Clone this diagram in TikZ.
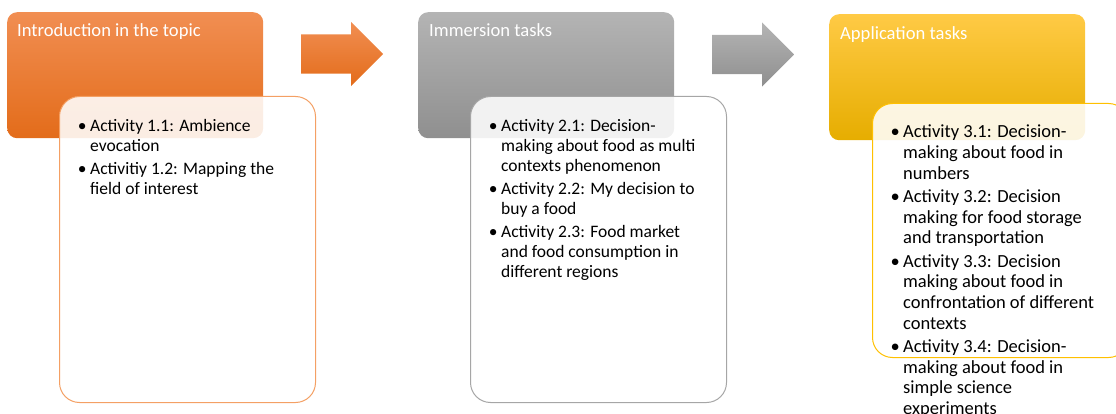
\documentclass[tikz,border=0pt]{standalone}
\usepackage{fontspec}
\setmainfont{Carlito}
\usetikzlibrary{shapes.arrows}

\definecolor{orangetop}{HTML}{F18E52}
\definecolor{orangemid}{HTML}{F07D2A}
\definecolor{orangebot}{HTML}{E36C1A}
\definecolor{orangeline}{HTML}{F4A064}
\definecolor{graytop}{HTML}{B4B4B4}
\definecolor{graymid}{HTML}{A4A4A4}
\definecolor{graybot}{HTML}{8F8F8F}
\definecolor{grayline}{HTML}{A6A6A6}
\definecolor{goldtop}{HTML}{FFCA45}
\definecolor{goldmid}{HTML}{FFC000}
\definecolor{goldbot}{HTML}{E6AD00}
\definecolor{goldline}{HTML}{FFC000}

\newcommand{\blt}{\makebox[10pt][l]{\makebox[4pt][c]{\textbullet}}}
\newcommand{\hng}{\hspace*{10pt}}

\begin{document}
\begin{tikzpicture}[
    x=1pt, y=-1pt,
    header/.style = {rectangle, rounded corners=10pt, anchor=north west,
minimum width=256pt, minimum height=126pt, inner sep=0pt},
    title/.style = {anchor=base west, inner sep=0pt, text=white,
font=\fontsize{18.6}{22}\selectfont},
    content/.style = {rectangle, rounded corners=20pt, anchor=north west,
fill=white, fill opacity=0.88, line width=1pt,
minimum width=256pt, minimum height=306pt},
    items/.style = {anchor=north west, inner sep=0pt, align=left,
font=\fontsize{17.5}{20}\selectfont},
    blockarrow/.style = {single arrow, single arrow head extend=12.5pt,
single arrow head indent=0pt, inner xsep=0pt, inner ysep=19.5pt,
minimum height=82pt, anchor=tail}
]
  \useasboundingbox (0,0) rectangle (1116,414);

  % introduction
  \node (intro) [header, top color=orangetop, middle color=orangemid, bottom color=orangebot] at (7,12) {};
  \node (introtitle) [title] at ([shift={(10pt,-25pt)}]intro.north west) {Introduction in the topic};
  \node (introlist) [content, draw=orangeline] at (59,96) {};
  \node (introtext) [items] at ([shift={(21pt,-23pt)}]introlist.north west)
    {\blt Activity 1.1: Ambience\\ \hng evocation\\[3pt]
     \blt Activitiy 1.2: Mapping the\\ \hng field of interest};

  \node (arrow1) [blockarrow, top color=orangetop, bottom color=orangebot] at (301,54) {};

  % immersion
  \node (immersion) [header, top color=graytop, middle color=graymid, bottom color=graybot] at (418,12) {};
  \node (immersiontitle) [title] at ([shift={(11pt,-25pt)}]immersion.north west) {Immersion tasks};
  \node (immersionlist) [content, draw=grayline] at (470,96) {};
  \node (immersiontext) [items] at ([shift={(21pt,-23pt)}]immersionlist.north west)
    {\blt Activity 2.1: Decision-\\ \hng making about food as multi\\ \hng contexts phenomenon\\[3pt]
     \blt Activity 2.2: My decision to\\ \hng buy a food\\[3pt]
     \blt Activity 2.3: Food market\\ \hng and food consumption in\\ \hng different regions};

  \node (arrow2) [blockarrow, top color=graytop, bottom color=graybot] at (712,54.5) {};

  % application
  \node (application) [header, top color=goldtop, middle color=goldmid, bottom color=goldbot] at (829,14) {};
  \node (applicationtitle) [title] at ([shift={(11pt,-25.5pt)}]application.north west) {Application tasks};
  \node (applicationlist) [content, draw=goldline, minimum height=254pt] at (872,103) {};
  \node (applicationtext) [items, font=\fontsize{18.5}{20.7}\selectfont] at ([shift={(21pt,-22pt)}]applicationlist.north west)
    {\blt Activity 3.1: Decision-\\ \hng making about food in\\ \hng numbers\\[2.5pt]
     \blt Activity 3.2: Decision\\ \hng making for food storage\\ \hng and transportation\\[2.5pt]
     \blt Activity 3.3: Decision\\ \hng making about food in\\ \hng confrontation of different\\ \hng contexts\\[2.5pt]
     \blt Activity 3.4: Decision-\\ \hng making about food in\\ \hng simple science\\ \hng experiments};

\end{tikzpicture}
\end{document}
